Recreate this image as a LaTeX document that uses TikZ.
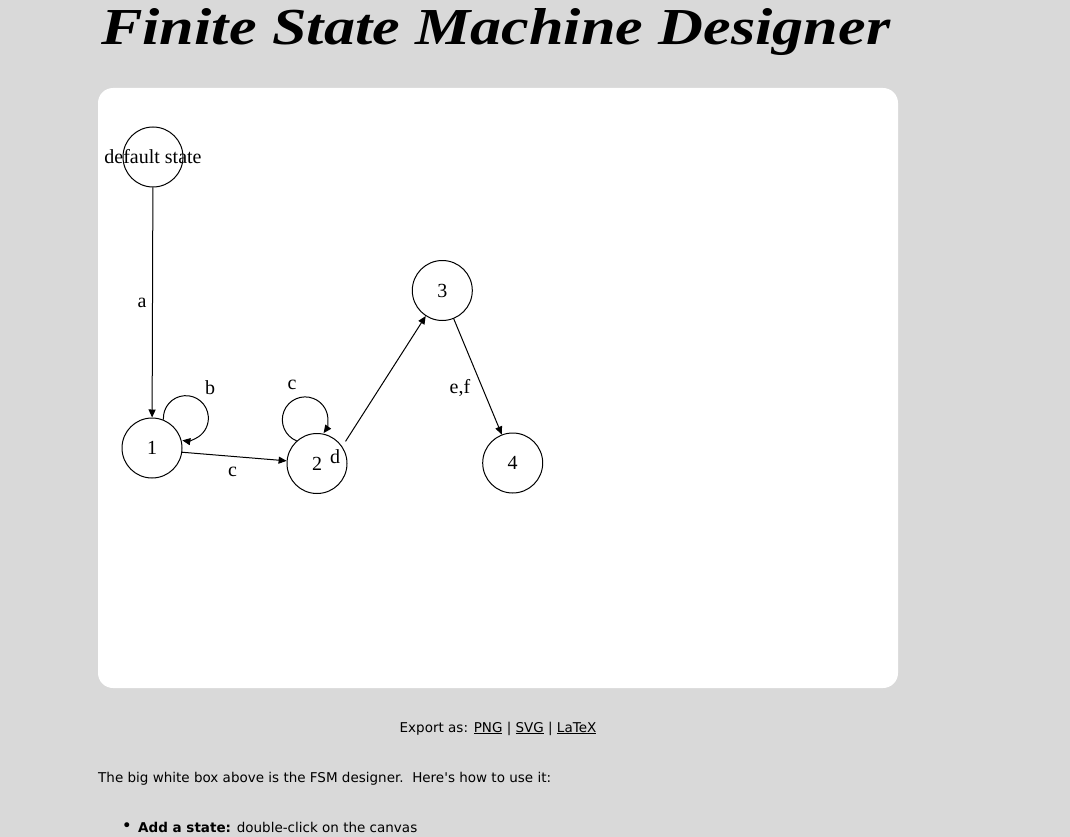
\documentclass[tikz,border=0pt]{standalone}
\usepackage{fontspec}
\usepackage{graphicx}
\setmainfont{Liberation Serif}
\newfontfamily\uifont{DejaVu Sans}
\usetikzlibrary{arrows.meta}
\definecolor{pagegray}{RGB}{217,217,217}

\begin{document}
\begin{tikzpicture}[x=1pt, y=-1pt,
    state/.style = {circle, draw, line width=1pt, minimum size=60pt, inner sep=0pt,
                    font=\fontsize{20}{24}\selectfont},
    arrow/.style = {line width=1pt, -{Triangle[length=8pt,width=7pt]}},
    lbl/.style   = {inner sep=0pt, font=\fontsize{20}{24}\selectfont},
    ui/.style    = {inner sep=0pt, font=\uifont\fontsize{13.5}{16}\selectfont}]
    \fill[pagegray] (0,0) rectangle (1070,837);
    \useasboundingbox (0,0) rectangle (1070,837);

    \node[anchor=base west, inner sep=0pt] (title) at (101,45)
        {\resizebox{789pt}{36pt}{\fontsize{56}{60}\selectfont\bfseries\itshape Finite State Machine Designer}};

    \fill[white, rounded corners=15pt] (98,88) rectangle (898,688);

    \node[state] (s0) at (153,157) {};
    \node[lbl]   (s0name) at (153,157) {default state};
    \node[state] (s1) at (152,448) {1};
    \node[state] (s2) at (317,463.5) {2};
    \node[state] (s3) at (442.3,290.5) {3};
    \node[state] (s4) at (512.7,463) {4};

    \draw[arrow] (s0) -- (s1);
    \draw[arrow] (s1.68) arc[start angle=-184, end angle=99, radius=22.5];
    \draw[arrow] (s1.352) -- (s2.175);
    \draw[arrow] (s2.132) arc[start angle=-248, end angle=36, radius=22.8];
    \draw[arrow, shorten <=6pt] (s2.34) -- (s3.237);
    \draw[arrow] (s3.292) -- (s4.111);

    \node[lbl] (la)  at (142,303) {a};
    \node[lbl] (lb)  at (210,388) {b};
    \node[lbl] (lc1) at (232.5,472) {c};
    \node[lbl] (lc2) at (292,385) {c};
    \node[lbl] (ld)  at (335,457) {d};
    \node[lbl] (lef) at (460,388) {e,f};

    \node[ui, anchor=base] (export) at (498,732)
        {Export as: \underline{PNG} | \underline{SVG} | \underline{LaTeX}};
    \node[ui, anchor=base west] (intro) at (98,782)
        {The big white box above is the FSM designer.\ \ Here's how to use it:};
    \node[ui, font=\uifont\fontsize{17}{18}\selectfont] (bullet) at (127,827) {\textbullet};
    \node[ui, anchor=base west] (item) at (138,832)
        {\textbf{Add a state:} double-click on the canvas};
\end{tikzpicture}
\end{document}
